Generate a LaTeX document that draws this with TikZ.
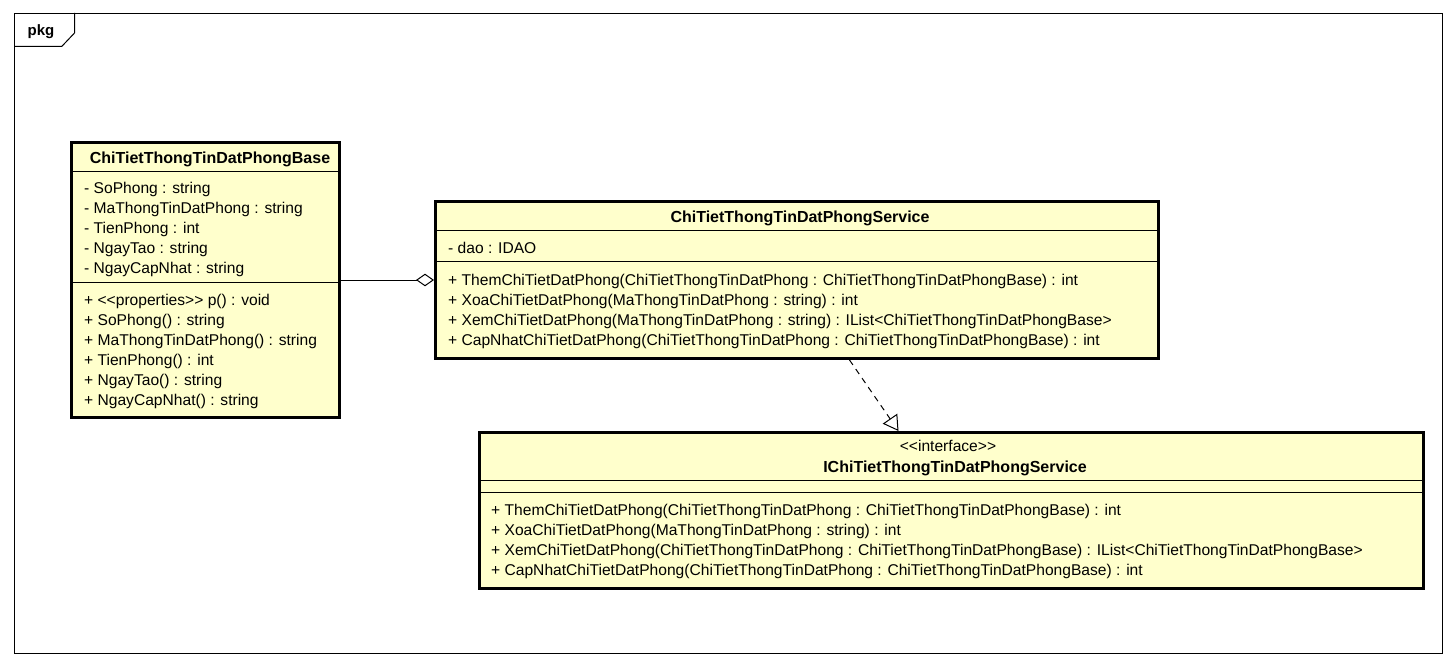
\documentclass[tikz,border=0pt]{standalone}
\usepackage{fontspec}
\setmainfont{Liberation Sans}
\usetikzlibrary{arrows.meta}
\definecolor{umlfill}{RGB}{255,255,204}
\begin{document}
\begin{tikzpicture}[x=1pt,y=-1pt,
  classbox/.style={draw, line width=3pt, fill=umlfill, inner sep=0pt, anchor=north west},
  sepline/.style={line width=1pt},
  member/.style={anchor=base west, inner sep=0pt, font=\fontsize{15.6}{20}\selectfont},
  ctitle/.style={anchor=base, inner sep=0pt, font=\fontsize{16}{20}\selectfont\bfseries},
  stereo/.style={anchor=base, inner sep=0pt, font=\fontsize{15.6}{20}\selectfont},
  frameline/.style={line width=1pt},
  conn/.style={line width=1pt}
]
\useasboundingbox (0,0) rectangle (1456,666);
\fill[white] (0,0) rectangle (1456,666);

% package frame
\node[draw, frameline, inner sep=0pt, anchor=north west, minimum width=1428pt, minimum height=640pt] (pkg) at (14,13) {};
\draw[frameline] ([yshift=-33.5pt]pkg.north west) -- ++(47.7,0) -- ++(13,-13.7) -- ++(0,-20);
\node[anchor=base, inner sep=0pt, font=\fontsize{15}{20}\selectfont\bfseries] (pkgname) at (41,36) {pkg};

% ChiTietThongTinDatPhongBase
\node[classbox, minimum width=268pt, minimum height=275pt] (base) at (70,141) {};
\draw[sepline] (base.west |- 0,171) -- (base.east |- 0,171);
\draw[sepline] (base.west |- 0,282) -- (base.east |- 0,282);
\node[ctitle] (baset) at (210,163) {ChiTietThongTinDatPhongBase};
\node[member] (ba1) at (84,193) {- SoPhong : string};
\node[member] (ba2) at (84,213) {- MaThongTinDatPhong : string};
\node[member] (ba3) at (84,233) {- TienPhong : int};
\node[member] (ba4) at (84,253) {- NgayTao : string};
\node[member] (ba5) at (84,273) {- NgayCapNhat : string};
\node[member] (bm1) at (84,305) {+ <{}<properties>{}> p() : void};
\node[member] (bm2) at (84,325) {+ SoPhong() : string};
\node[member] (bm3) at (84,345) {+ MaThongTinDatPhong() : string};
\node[member] (bm4) at (84,365) {+ TienPhong() : int};
\node[member] (bm5) at (84,385) {+ NgayTao() : string};
\node[member] (bm6) at (84,405) {+ NgayCapNhat() : string};

% ChiTietThongTinDatPhongService
\node[classbox, minimum width=723pt, minimum height=157pt] (svc) at (434,200) {};
\draw[sepline] (svc.west |- 0,230) -- (svc.east |- 0,230);
\draw[sepline] (svc.west |- 0,261) -- (svc.east |- 0,261);
\node[ctitle] (svct) at (800,222) {ChiTietThongTinDatPhongService};
\node[member] (sa1) at (448,253) {- dao : IDAO};
\node[member] (sm1) at (448,285) {+ ThemChiTietDatPhong(ChiTietThongTinDatPhong : ChiTietThongTinDatPhongBase) : int};
\node[member] (sm2) at (448,305) {+ XoaChiTietDatPhong(MaThongTinDatPhong : string) : int};
\node[member] (sm3) at (448,325) {+ XemChiTietDatPhong(MaThongTinDatPhong : string) : IList<ChiTietThongTinDatPhongBase>};
\node[member] (sm4) at (448,345) {+ CapNhatChiTietDatPhong(ChiTietThongTinDatPhong : ChiTietThongTinDatPhongBase) : int};

% IChiTietThongTinDatPhongService
\node[classbox, minimum width=944pt, minimum height=156pt] (ifc) at (478,431) {};
\draw[sepline] (ifc.west |- 0,480) -- (ifc.east |- 0,480);
\draw[sepline] (ifc.west |- 0,492) -- (ifc.east |- 0,492);
\node[stereo] (ifcs) at (948,451) {<{}<interface>{}>};
\node[ctitle] (ifct) at (955,472) {IChiTietThongTinDatPhongService};
\node[member] (im1) at (491,515) {+ ThemChiTietDatPhong(ChiTietThongTinDatPhong : ChiTietThongTinDatPhongBase) : int};
\node[member] (im2) at (491,535) {+ XoaChiTietDatPhong(MaThongTinDatPhong : string) : int};
\node[member] (im3) at (491,555) {+ XemChiTietDatPhong(ChiTietThongTinDatPhong : ChiTietThongTinDatPhongBase) : IList<ChiTietThongTinDatPhongBase>};
\node[member] (im4) at (491,575) {+ CapNhatChiTietDatPhong(ChiTietThongTinDatPhong : ChiTietThongTinDatPhongBase) : int};

% connectors
\draw[conn, -{Diamond[open, length=18pt, width=12.6pt]}] (base.east) -- (svc.west);
\draw[conn, dash pattern=on 6pt off 5pt, -{Triangle[open, length=15pt, width=17.5pt]}] ([xshift=52.5pt]svc.south) -- ([xshift=-53pt]ifc.north);
\end{tikzpicture}
\end{document}
